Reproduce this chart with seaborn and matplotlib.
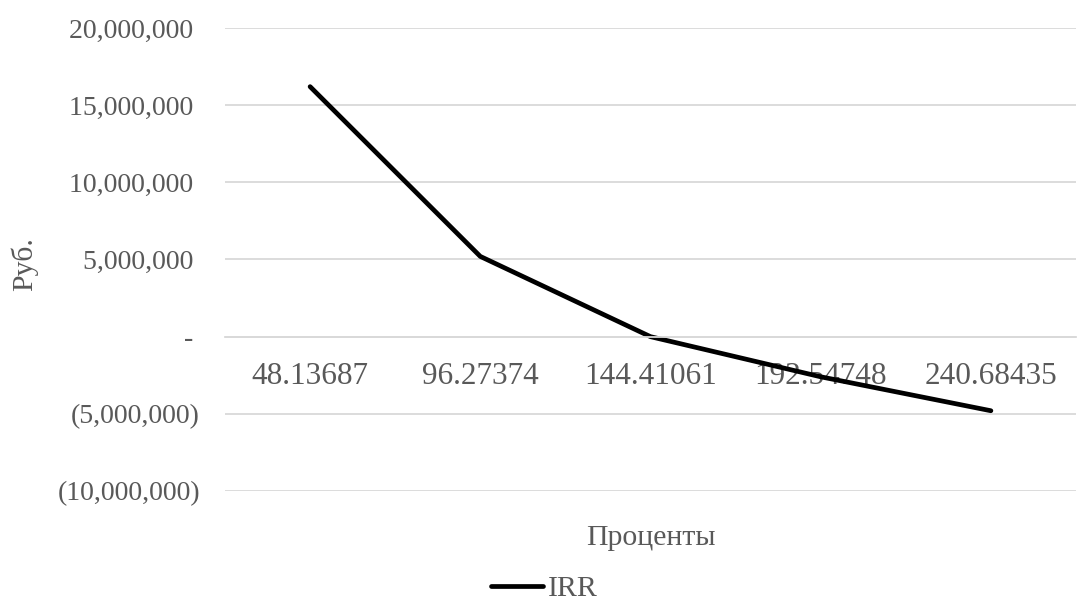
import matplotlib
matplotlib.use("Agg")
import matplotlib.pyplot as plt
import seaborn as sns
import pandas as pd
from matplotlib.ticker import FuncFormatter, MultipleLocator

# IRR curve: net value (roubles) at each discount rate (percent)
rates = ["48.13687", "96.27374", "144.41061", "192.54748", "240.68435"]
npv_values = [16_200_000, 5_200_000, 0, -2_600_000, -4_800_000]
series_name = "IRR"

df = pd.DataFrame({"rate": rates, "value": npv_values, "series": series_name})

sns.set_theme(style="white")
plt.rcParams["font.family"] = ["Liberation Serif", "DejaVu Serif"]

TEXT = "#595959"
GRID = "#d9d9d9"

fig = plt.figure(figsize=(10.77, 6.03), dpi=100)
ax = fig.add_axes([225 / 1077, 1 - 491 / 603, 851 / 1077, 463 / 603])

sns.lineplot(data=df, x="rate", y="value", hue="series", palette=["black"],
             linewidth=3.4, sort=False, ax=ax, legend=True)
for ln in ax.lines:
    ln.set_solid_capstyle("round")
    ln.set_solid_joinstyle("round")

ax.set_xlim(-0.5, len(rates) - 0.5)
ax.set_ylim(-10_000_000, 20_000_000)
ax.yaxis.set_major_locator(MultipleLocator(5_000_000))


def accounting(v, pos):
    v = int(round(v))
    if v == 0:
        return "- "
    if v < 0:
        return f"({-v:,})"
    return f"{v:,} "


ax.yaxis.set_major_formatter(FuncFormatter(accounting))
ax.grid(axis="y", color=GRID, linewidth=1.3)
ax.grid(axis="x", visible=False)
ax.set_axisbelow(True)

for side in ["left", "right", "top"]:
    ax.spines[side].set_visible(False)
ax.spines["bottom"].set_position(("data", 0))
ax.spines["bottom"].set_color(GRID)
ax.spines["bottom"].set_linewidth(1.3)

ax.tick_params(axis="y", length=0, pad=18, labelsize=20, labelcolor=TEXT)
ax.tick_params(axis="x", length=0, pad=18.5, labelsize=22.5, labelcolor=TEXT)

ax.set_xlabel("Проценты", fontsize=21.5, color=TEXT)
ax.xaxis.set_label_coords(0.5, (491 - 538) / 463)
ax.xaxis.label.set_va("center")
ax.set_ylabel("Руб.", fontsize=21.5, color=TEXT)
ax.yaxis.set_label_coords((24.5 - 225) / 851, (491 - 264.5) / 463)
ax.yaxis.label.set_va("center")

handles, labels = ax.get_legend_handles_labels()
for h in handles:
    h.set_solid_capstyle("round")
ax.get_legend().remove()
fig.legend(handles, labels, loc="center", bbox_to_anchor=(544 / 1077, 1 - 589 / 603),
           frameon=False, fontsize=21.5, labelcolor=TEXT, handlelength=1.75,
           handletextpad=0.15, borderpad=0, borderaxespad=0)

fig.savefig("out.png", dpi=100, facecolor="white")
